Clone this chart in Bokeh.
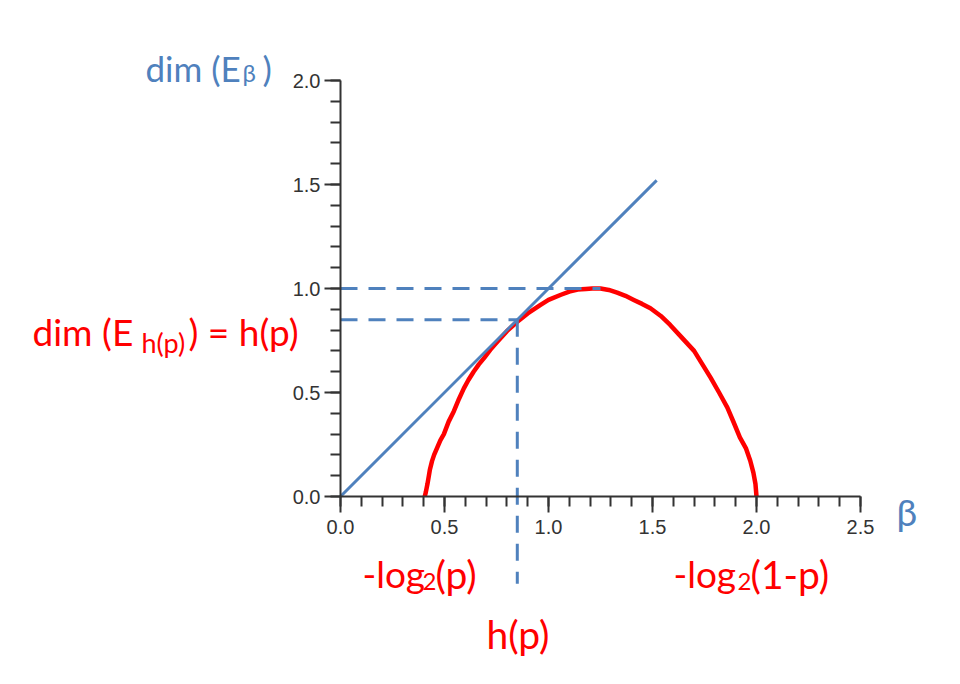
from bokeh.plotting import figure
from bokeh.models import Range1d, SingleIntervalTicker, PrintfTickFormatter, Label
from bokeh.embed import file_html
from bokeh.resources import INLINE

# ---- data ----
beta_curve = [0.405, 0.41, 0.418, 0.425, 0.43, 0.44, 0.45, 0.465, 0.48, 0.497,
              0.52, 0.545, 0.57, 0.593, 0.615, 0.64, 0.665, 0.69, 0.72, 0.755,
              0.80, 0.85, 0.90, 0.96, 1.0, 1.06, 1.10, 1.14, 1.18, 1.21,
              1.25, 1.29, 1.33, 1.37, 1.41, 1.45, 1.49, 1.54, 1.585, 1.64,
              1.70, 1.74, 1.78, 1.82, 1.86, 1.89, 1.92, 1.95, 1.97, 1.985,
              1.995, 2.0]
dim_curve = [0.0, 0.02, 0.06, 0.10, 0.13, 0.17, 0.20, 0.235, 0.27, 0.30,
             0.36, 0.41, 0.47, 0.52, 0.56, 0.60, 0.635, 0.665, 0.705, 0.745,
             0.795, 0.84, 0.88, 0.92, 0.945, 0.97, 0.985, 0.995, 0.998, 1.0,
             1.0, 0.993, 0.98, 0.965, 0.945, 0.926, 0.905, 0.868, 0.825, 0.765,
             0.70, 0.635, 0.57, 0.50, 0.427, 0.357, 0.284, 0.23, 0.172, 0.115,
             0.06, 0.0]
diag_x = [0.0, 1.52]
diag_y = [0.0, 1.52]
h_p = 0.85
dim_max = 1.0
beta_max_end = 1.25
h_line_bottom = -0.42
tick_interval = 0.5
x_axis_end = 2.5
y_axis_end = 2.0

BLUE = "#4f81bd"
RED = "#ff0000"
AX = "#333333"

# reference pixel -> data helpers (origin at 340,496 ; 208 px per unit)
def dx(X):
    return (X - 340) / 208.0

def dy(Y):
    return (496 - Y) / 208.0

p = figure(width=944, height=668,
           x_range=Range1d(dx(0), dx(944)), y_range=Range1d(dy(668), dy(0)),
           output_backend="svg", toolbar_location=None, min_border=0,
           outline_line_color=None)
p.grid.visible = False

for ax, end in ((p.xaxis, x_axis_end), (p.yaxis, y_axis_end)):
    ax.fixed_location = 0
    ax.bounds = (0, end)
    ax.ticker = SingleIntervalTicker(interval=tick_interval, num_minor_ticks=5)
    ax.formatter = PrintfTickFormatter(format="%.1f")
    ax.axis_line_color = AX
    ax.axis_line_width = 2
    ax.major_tick_line_color = AX
    ax.major_tick_line_width = 2
    ax.minor_tick_line_color = AX
    ax.minor_tick_line_width = 2
    ax.major_tick_in = 0
    ax.major_tick_out = 16
    ax.minor_tick_in = 0
    ax.minor_tick_out = 10
    ax.major_label_text_font = "Liberation Sans"
    ax.major_label_text_font_size = "20px"
    ax.major_label_text_color = AX
p.xaxis.major_label_standoff = 7
p.yaxis.major_label_standoff = 4

# red curve
p.line(beta_curve, dim_curve, line_color=RED, line_width=4.5, line_join="round")

# blue diagonal
p.line(diag_x, diag_y, line_color=BLUE, line_width=3)

# dashed guides
p.line([0, beta_max_end], [dim_max, dim_max], line_color=BLUE, line_width=3, line_dash="17 11")
p.line([0, h_p], [h_p, h_p], line_color=BLUE, line_width=3, line_dash="17 11")
p.line([h_p, h_p], [h_p, h_line_bottom], line_color=BLUE, line_width=3, line_dash="17 11")

FONT = "Lato"

def lab(text, X, Y, color, size):
    p.add_layout(Label(x=dx(X), y=dy(Y), text=text, text_color=color,
                       text_font=FONT, text_font_size=f"{size}px",
                       text_align="left", text_baseline="alphabetic"))

# blue y label
lab("dim (E", 145, 67, BLUE, 35)
lab("β", 242, 72, BLUE, 24)
lab(")", 262, 67, BLUE, 35)
# blue x label
lab("β", 896, 511, BLUE, 37)

# red labels
lab("dim (E", 32, 331, RED, 37)
lab("h(p)", 141, 342, RED, 27)
lab(") = h(p)", 188, 331, RED, 37)

lab("-log", 362, 573, RED, 37)
lab("2", 422, 581, RED, 24)
lab("(p)", 435, 573, RED, 39)

lab("-log", 673, 573, RED, 37)
lab("2", 737, 581, RED, 24)
lab("(1-p)", 750, 573, RED, 39)

lab("h(p)", 486, 633, RED, 39)

open("out.html", "w").write(file_html(p, INLINE))
